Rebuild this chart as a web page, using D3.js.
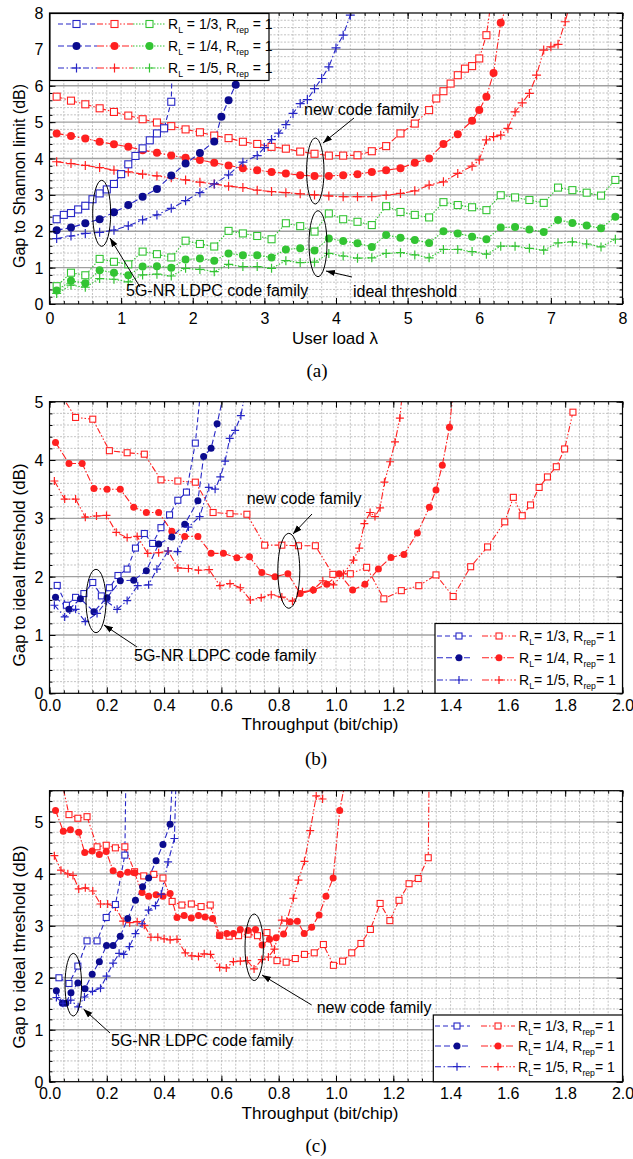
<!DOCTYPE html>
<html><head><meta charset="utf-8">
<script src="https://cdn.jsdelivr.net/npm/d3@7"></script>
<style>body{margin:0;background:#fff}</style>
</head><body>
<script>
// ================= DATA =================
// tick labels
const aXTicks=[0,1,2,3,4,5,6,7,8];
const aYTicks=[0,1,2,3,4,5,6,7,8];
const bcXTicks=[0,0.2,0.4,0.6,0.8,1.0,1.2,1.4,1.6,1.8,2.0];
const bYTicks=[0,1,2,3,4,5];
const cYTicks=[0,1,2,3,4,5];
const legendRates=["1/3","1/4","1/5"];

// Panel (a): gap to Shannon limit vs user load
const a_nr13=[[0.1,2.33],[0.2,2.45],[0.3,2.5],[0.4,2.6],[0.5,2.7],[0.6,2.88],[0.7,3.04],[0.8,3.15],[0.9,3.3],[1.0,3.57],[1.1,3.84],[1.2,4.07],[1.3,4.28],[1.4,4.5],[1.5,4.69],[1.6,4.83],[1.7,5.56],[1.8,14]];
const a_nr14=[[0.1,2.03],[0.3,2.1],[0.5,2.22],[0.7,2.33],[0.9,2.52],[1.1,2.72],[1.3,2.95],[1.5,3.16],[1.7,3.53],[1.9,3.86],[2.1,4.15],[2.3,4.47],[2.4,5.15],[2.5,5.6],[2.6,6.03]];
const a_nr15=[[0.1,1.8],[0.3,1.87],[0.5,1.94],[0.7,1.97],[0.9,2.03],[1.1,2.15],[1.3,2.31],[1.5,2.45],[1.7,2.63],[1.9,2.84],[2.1,3.06],[2.3,3.3],[2.5,3.55],[2.7,3.9],[2.9,4.08],[3.0,4.3],[3.1,4.52],[3.2,4.7],[3.3,4.93],[3.4,5.24],[3.5,5.51],[3.6,5.62],[3.7,5.92],[3.8,6.2],[3.9,6.52],[4.0,7.04],[4.1,7.39],[4.2,7.94]];
const a_new13=[[0.1,5.7],[0.3,5.59],[0.5,5.49],[0.7,5.38],[0.9,5.28],[1.1,5.18],[1.3,5.08],[1.5,4.99],[1.7,4.89],[1.9,4.8],[2.1,4.72],[2.3,4.63],[2.5,4.56],[2.7,4.46],[2.9,4.4],[3.1,4.32],[3.3,4.27],[3.5,4.19],[3.7,4.13],[3.9,4.08],[4.1,4.08],[4.3,4.09],[4.5,4.2],[4.7,4.34],[4.9,4.69],[5.1,4.96],[5.3,5.33],[5.4,5.65],[5.5,5.85],[5.6,6.06],[5.7,6.29],[5.8,6.47],[5.9,6.54],[6.0,6.75],[6.1,7.39],[6.2,8.8]];
const a_new14=[[0.1,4.69],[0.3,4.62],[0.5,4.55],[0.7,4.46],[0.9,4.39],[1.1,4.32],[1.3,4.23],[1.5,4.16],[1.7,4.08],[1.9,4.02],[2.1,3.96],[2.3,3.88],[2.5,3.81],[2.7,3.73],[2.9,3.68],[3.1,3.63],[3.3,3.59],[3.5,3.54],[3.7,3.52],[3.9,3.52],[4.1,3.54],[4.3,3.57],[4.5,3.63],[4.7,3.68],[4.9,3.73],[5.1,3.88],[5.3,4.0],[5.5,4.4],[5.7,4.67],[5.9,5.04],[6.0,5.33],[6.1,5.7],[6.2,6.35],[6.3,7.73],[6.4,8.3]];
const a_new15=[[0.1,3.91],[0.3,3.86],[0.5,3.81],[0.7,3.75],[0.9,3.68],[1.1,3.63],[1.3,3.57],[1.5,3.52],[1.7,3.47],[1.9,3.41],[2.1,3.35],[2.3,3.3],[2.5,3.24],[2.7,3.2],[2.9,3.13],[3.1,3.09],[3.3,3.06],[3.5,3.03],[3.7,3.0],[3.9,2.97],[4.1,2.95],[4.3,2.95],[4.5,2.95],[4.7,2.99],[4.9,3.04],[5.1,3.11],[5.3,3.27],[5.5,3.36],[5.7,3.59],[5.9,3.79],[6.0,3.96],[6.1,4.51],[6.2,4.6],[6.3,4.64],[6.4,4.83],[6.5,5.28],[6.6,5.53],[6.7,5.79],[6.8,6.29],[6.9,6.98],[7.0,7.07],[7.1,7.14],[7.2,7.76],[7.3,8.5]];
const a_id13=[[0.1,0.49],[0.3,0.86],[0.5,0.79],[0.7,1.24],[0.9,1.16],[1.1,1.09],[1.3,1.44],[1.5,1.37],[1.7,1.28],[1.9,1.74],[2.1,1.65],[2.3,1.58],[2.5,2.01],[2.7,1.94],[2.9,1.87],[3.1,1.78],[3.3,2.22],[3.5,2.14],[3.7,1.99],[3.9,2.49],[4.1,2.33],[4.3,2.26],[4.5,2.17],[4.7,2.69],[4.9,2.53],[5.1,2.45],[5.3,2.38],[5.5,2.8],[5.7,2.72],[5.9,2.66],[6.1,2.58],[6.3,2.99],[6.5,2.93],[6.7,2.86],[6.9,2.78],[7.1,3.2],[7.3,3.13],[7.5,3.06],[7.7,2.98],[7.9,3.41]];
const a_id14=[[0.1,0.37],[0.3,0.64],[0.5,0.57],[0.7,0.93],[0.9,0.86],[1.1,0.79],[1.3,1.03],[1.5,1.04],[1.7,1.0],[1.9,1.22],[2.1,1.25],[2.3,1.19],[2.5,1.39],[2.7,1.34],[2.9,1.34],[3.1,1.28],[3.3,1.5],[3.5,1.53],[3.7,1.47],[3.9,1.8],[4.1,1.73],[4.3,1.67],[4.5,1.57],[4.7,1.9],[4.9,1.82],[5.1,1.76],[5.3,1.68],[5.5,2.0],[5.7,1.94],[5.9,1.85],[6.1,1.78],[6.3,2.1],[6.5,2.12],[6.7,2.05],[6.9,1.98],[7.1,2.31],[7.3,2.23],[7.5,2.16],[7.7,2.08],[7.9,2.4]];
const a_id15=[[0.1,0.29],[0.3,0.52],[0.5,0.46],[0.7,0.7],[0.9,0.68],[1.1,0.61],[1.3,0.8],[1.5,0.82],[1.7,0.77],[1.9,0.98],[2.1,0.95],[2.3,0.89],[2.5,1.09],[2.7,1.03],[2.9,1.03],[3.1,0.98],[3.3,1.19],[3.5,1.14],[3.7,1.15],[3.9,1.39],[4.1,1.32],[4.3,1.26],[4.5,1.27],[4.7,1.39],[4.9,1.41],[5.1,1.35],[5.3,1.27],[5.5,1.5],[5.7,1.5],[5.9,1.44],[6.1,1.37],[6.3,1.59],[6.5,1.59],[6.7,1.53],[6.9,1.48],[7.1,1.68],[7.3,1.71],[7.5,1.65],[7.7,1.57],[7.9,1.78]];

// Panel (b): gap to ideal threshold vs throughput
const b_nr13=[[0.027,1.85],[0.059,1.51],[0.091,1.645],[0.12,1.71],[0.151,1.9],[0.181,1.67],[0.209,1.81],[0.239,2.02],[0.271,2.13],[0.3,2.49],[0.331,2.74],[0.36,2.57],[0.389,2.84],[0.419,3.06],[0.448,3.31],[0.478,3.45],[0.509,4.29],[0.54,5.8]];
const b_nr14=[[0.021,1.645],[0.068,1.44],[0.108,1.62],[0.155,1.4],[0.201,1.64],[0.247,1.93],[0.294,1.94],[0.338,2.1],[0.381,2.56],[0.427,2.68],[0.472,2.9],[0.518,3.3],[0.538,4.06],[0.564,4.2],[0.585,4.62],[0.62,5.4]];
const b_nr15=[[0.017,1.51],[0.053,1.31],[0.091,1.44],[0.125,1.23],[0.166,1.37],[0.199,1.58],[0.236,1.44],[0.271,1.59],[0.308,1.845],[0.346,1.86],[0.375,2.13],[0.414,2.44],[0.447,2.43],[0.485,2.85],[0.524,3.03],[0.556,3.53],[0.578,3.5],[0.596,3.71],[0.613,3.98],[0.629,4.37],[0.648,4.51],[0.668,4.76],[0.69,5.35]];
const b_new13=[[0.03,5.2],[0.091,4.73],[0.151,4.7],[0.209,4.16],[0.271,4.125],[0.331,4.1],[0.389,3.66],[0.448,3.64],[0.509,3.62],[0.571,3.1],[0.63,3.08],[0.689,3.07],[0.751,2.54],[0.811,2.54],[0.869,2.53],[0.928,2.53],[0.989,2.04],[1.05,2.05],[1.107,2.16],[1.167,1.62],[1.228,1.76],[1.289,1.845],[1.349,2.03],[1.409,1.66],[1.47,2.17],[1.529,2.51],[1.589,2.94],[1.619,3.36],[1.65,3.045],[1.679,3.23],[1.709,3.53],[1.738,3.71],[1.769,3.885],[1.798,4.19],[1.827,4.82]];
const b_new14=[[0.021,4.3],[0.068,3.94],[0.114,3.94],[0.155,3.51],[0.201,3.5],[0.247,3.5],[0.294,3.19],[0.338,3.1],[0.381,3.1],[0.427,2.78],[0.472,2.69],[0.518,2.69],[0.564,2.4],[0.607,2.4],[0.654,2.325],[0.698,2.34],[0.741,2.07],[0.787,2.0],[0.832,2.05],[0.875,1.71],[0.921,1.77],[0.968,1.87],[1.011,2.05],[1.058,1.77],[1.101,1.87],[1.148,2.13],[1.192,2.33],[1.237,2.38],[1.284,2.75],[1.326,3.19],[1.349,3.485],[1.371,3.91],[1.396,4.56],[1.42,5.7]];
const b_new15=[[0.017,3.64],[0.053,3.33],[0.091,3.33],[0.125,3.02],[0.164,3.04],[0.199,3.05],[0.233,2.76],[0.271,2.67],[0.306,2.69],[0.343,2.4],[0.381,2.41],[0.414,2.44],[0.448,2.15],[0.485,2.14],[0.52,2.11],[0.557,2.12],[0.595,1.845],[0.63,1.88],[0.666,1.81],[0.701,1.6],[0.739,1.64],[0.774,1.69],[0.811,1.65],[0.848,1.58],[0.883,1.74],[0.919,1.77],[0.954,1.93],[0.991,1.86],[1.026,2.05],[1.061,2.285],[1.081,2.49],[1.099,2.91],[1.119,3.1],[1.136,3.03],[1.154,3.18],[1.169,3.62],[1.189,3.97],[1.206,4.31],[1.223,4.72],[1.24,5.6]];

// Panel (c): gap to ideal threshold vs throughput
const c_nr13=[[0.033,2.0],[0.068,1.89],[0.099,2.225],[0.131,2.71],[0.166,2.71],[0.198,3.16],[0.23,3.41],[0.263,4.36],[0.268,6.5]];
const c_nr14=[[0.024,1.75],[0.045,1.51],[0.057,1.51],[0.075,1.71],[0.099,1.9],[0.124,1.79],[0.149,2.07],[0.174,2.31],[0.199,2.62],[0.222,2.62],[0.247,2.8],[0.273,3.14],[0.3,3.49],[0.325,3.75],[0.346,3.92],[0.372,4.25],[0.396,4.565],[0.421,4.955],[0.435,6.5]];
const c_nr15=[[0.024,1.62],[0.047,1.51],[0.074,1.57],[0.1,1.44],[0.122,1.63],[0.15,1.74],[0.178,1.8],[0.199,2.03],[0.222,2.28],[0.243,2.47],[0.259,2.45],[0.279,2.6],[0.3,2.85],[0.323,3.04],[0.346,3.3],[0.37,3.39],[0.39,3.61],[0.414,4.23],[0.436,4.68],[0.445,6.5]];
const c_new13=[[0.038,5.9],[0.068,5.14],[0.099,5.07],[0.131,5.1],[0.166,4.52],[0.198,4.55],[0.23,4.5],[0.263,4.52],[0.297,4.04],[0.329,3.96],[0.364,3.99],[0.396,3.92],[0.428,3.47],[0.462,3.4],[0.495,3.42],[0.529,3.37],[0.561,3.4],[0.594,2.82],[0.627,2.8],[0.66,2.81],[0.693,2.84],[0.726,2.81],[0.759,2.87],[0.794,2.33],[0.826,2.3],[0.858,2.37],[0.89,2.45],[0.924,2.48],[0.956,2.64],[0.991,2.24],[1.023,2.32],[1.055,2.48],[1.087,2.66],[1.12,2.93],[1.154,3.43],[1.188,3.1],[1.22,3.49],[1.255,3.81],[1.287,3.91],[1.322,4.31],[1.326,6.5]];
const c_new14=[[0.021,5.22],[0.048,4.82],[0.073,4.85],[0.102,4.8],[0.123,4.41],[0.149,4.44],[0.174,4.37],[0.198,4.43],[0.222,4.06],[0.247,3.99],[0.273,4.03],[0.297,4.02],[0.323,3.64],[0.346,3.57],[0.372,3.6],[0.396,3.57],[0.421,3.62],[0.445,3.16],[0.47,3.2],[0.495,3.15],[0.52,3.2],[0.543,3.17],[0.569,3.14],[0.594,2.81],[0.619,2.85],[0.642,2.85],[0.666,2.93],[0.693,2.91],[0.719,2.93],[0.742,2.63],[0.768,2.74],[0.791,2.77],[0.817,2.84],[0.84,3.08],[0.865,3.09],[0.889,2.85],[0.915,2.97],[0.941,3.21],[0.965,3.57],[0.99,3.92],[1.013,5.22],[1.04,6.0]];
const c_new15=[[0.017,4.35],[0.04,4.07],[0.064,4.0],[0.082,3.97],[0.102,3.71],[0.125,3.73],[0.151,3.67],[0.178,3.42],[0.203,3.42],[0.23,3.36],[0.257,3.09],[0.28,3.06],[0.306,3.08],[0.331,3.01],[0.354,2.78],[0.378,2.78],[0.4,2.75],[0.421,2.73],[0.445,2.74],[0.474,2.48],[0.497,2.42],[0.52,2.41],[0.54,2.46],[0.562,2.45],[0.594,2.2],[0.617,2.19],[0.642,2.31],[0.666,2.32],[0.69,2.33],[0.714,2.17],[0.741,2.35],[0.764,2.4],[0.785,2.55],[0.811,3.11],[0.828,3.09],[0.851,3.53],[0.869,3.88],[0.89,4.24],[0.91,4.83],[0.931,5.5],[0.953,5.44],[0.96,6.5]];

// ================= STYLE / LAYOUT =================
const FONT="'Liberation Sans', Arial, Helvetica, sans-serif";
const SERIF="'Liberation Serif','Times New Roman',serif";
const BLUE="#2626c6", NAVY="#0b0b8e", RED="#ff2020", GREEN="#33c433";
const ST={
  nr13:{c:BLUE,f:BLUE,m:"sq",d:"5,3"},
  nr14:{c:BLUE,f:NAVY,m:"ci",d:"6,3"},
  nr15:{c:BLUE,f:BLUE,m:"pl",d:"6,2.5,1.5,2.5"},
  new13:{c:RED,f:RED,m:"sq",d:"6,2,1.5,2,1.5,2"},
  new14:{c:RED,f:RED,m:"ci",d:"7,2,1.5,2"},
  new15:{c:RED,f:RED,m:"pl",d:"7,2,1.5,2,1.5,2"},
  id13:{c:GREEN,f:GREEN,m:"sq",d:"1.5,1.5"},
  id14:{c:GREEN,f:GREEN,m:"ci",d:"1.5,1.5"},
  id15:{c:GREEN,f:GREEN,m:"pl",d:"1.5,1.5"}
};

const W=633,H=1159;
const svg=d3.select("body").append("svg").attr("width",W).attr("height",H)
  .style("background","#fff").attr("font-family",FONT);
const defs=svg.append("defs");
defs.append("marker").attr("id","arr").attr("viewBox","0 0 10 10").attr("refX",10).attr("refY",5)
  .attr("markerWidth",9).attr("markerHeight",9).attr("markerUnits","userSpaceOnUse").attr("orient","auto")
  .append("path").attr("d","M0,1.5L10,5L0,8.5Z").attr("fill","#000");

function marker(g,type,st,s){
  if(type==="sq") g.append("rect").attr("x",-s).attr("y",-s).attr("width",2*s).attr("height",2*s)
     .attr("fill","#fff").attr("stroke",st.c).attr("stroke-width",1.1);
  else if(type==="ci") g.append("circle").attr("r",s+0.5).attr("fill",st.f).attr("stroke","none");
  else g.append("path").attr("d",`M${-s-1},0H${s+1}M0,${-s-1}V${s+1}`).attr("stroke",st.c).attr("stroke-width",1.2);
}

function panel(P){
  const x=d3.scaleLinear().domain(P.xd).range([P.l,P.r]);
  const y=d3.scaleLinear().domain(P.yd).range([P.b,P.t]);
  const g=svg.append("g");
  const cid="clip"+P.id;
  defs.append("clipPath").attr("id",cid).append("rect").attr("x",P.l).attr("y",P.t).attr("width",P.r-P.l).attr("height",P.b-P.t);
  // grid
  const xm=d3.range(P.xd[0],P.xd[1]+1e-9,P.xMinor).map(v=>+v.toFixed(4));
  const ym=d3.range(P.yd[0],P.yd[1]+1e-9,P.yMinor).map(v=>+v.toFixed(4));
  const grid=g.append("g");
  grid.selectAll(".vx").data(xm.filter(v=>v>P.xd[0]&&v<P.xd[1])).join("line")
    .attr("x1",d=>x(d)).attr("x2",d=>x(d)).attr("y1",P.t).attr("y2",P.b)
    .attr("stroke","#b4b4b4").attr("stroke-width",0.8).attr("stroke-dasharray","2,1.5");
  grid.selectAll(".hy").data(ym.filter(v=>Math.abs(v-Math.round(v))>1e-6)).join("line")
    .attr("y1",d=>y(d)).attr("y2",d=>y(d)).attr("x1",P.l).attr("x2",P.r)
    .attr("stroke","#b4b4b4").attr("stroke-width",0.8).attr("stroke-dasharray","2,1.5");
  grid.selectAll(".hm").data(P.yT.filter(v=>v>P.yd[0]&&v<P.yd[1])).join("line")
    .attr("y1",d=>y(d)).attr("y2",d=>y(d)).attr("x1",P.l).attr("x2",P.r)
    .attr("stroke","#a0a0a0").attr("stroke-width",1.4);
  // series
  const sg=g.append("g").attr("clip-path",`url(#${cid})`);
  P.series.forEach(([data,key])=>{
    const st=ST[key];
    sg.append("path").datum(data).attr("d",d3.line().x(d=>x(d[0])).y(d=>y(d[1])))
      .attr("fill","none").attr("stroke",st.c).attr("stroke-width",1.1).attr("stroke-dasharray",st.d);
  });
  P.series.forEach(([data,key])=>{
    const st=ST[key];
    sg.selectAll(null).data(data).join("g").attr("transform",d=>`translate(${x(d[0])},${y(d[1])})`)
      .each(function(){marker(d3.select(this),st.m,st,P.ms);});
  });
  // frame
  g.append("rect").attr("x",P.l).attr("y",P.t).attr("width",P.r-P.l).attr("height",P.b-P.t)
    .attr("fill","none").attr("stroke","#000").attr("stroke-width",1.2);
  // axes (inward ticks on all sides)
  const fmt=P.fmt;
  const ax=(gen,pos)=>g.append("g").attr("transform",pos).call(gen).call(s=>s.select(".domain").remove());
  const minorX=xm, minorY=ym;
  ax(d3.axisBottom(x).tickValues(minorX).tickSize(-3).tickFormat(""),`translate(0,${P.b})`);
  ax(d3.axisTop(x).tickValues(minorX).tickSize(-3).tickFormat(""),`translate(0,${P.t})`);
  ax(d3.axisLeft(y).tickValues(minorY).tickSize(-3).tickFormat(""),`translate(${P.l},0)`);
  ax(d3.axisRight(y).tickValues(minorY).tickSize(-3).tickFormat(""),`translate(${P.r},0)`);
  ax(d3.axisTop(x).tickValues(P.xT).tickSize(-6).tickFormat(""),`translate(0,${P.t})`);
  ax(d3.axisRight(y).tickValues(P.yT).tickSize(-6).tickFormat(""),`translate(${P.r},0)`);
  const bx=ax(d3.axisBottom(x).tickValues(P.xT).tickSize(-6).tickPadding(P.xpad).tickFormat(fmt),`translate(0,${P.b})`);
  const ly=ax(d3.axisLeft(y).tickValues(P.yT).tickSize(-6).tickPadding(6).tickFormat(d3.format("d")),`translate(${P.l},0)`);
  [bx,ly].forEach(s=>s.selectAll("text").attr("font-size",16).attr("font-family",FONT).attr("fill","#000"));
  ly.selectAll("text").attr("dy","0.35em");
  g.selectAll(".tick line").attr("stroke","#000").attr("stroke-width",1);
  // axis titles
  g.append("text").attr("transform",`translate(${P.ytx},${P.yty}) rotate(-90)`).attr("text-anchor","middle")
    .attr("dominant-baseline","central").attr("font-size",P.yfs).text(P.ytitle);
  const xt=g.append("text").attr("x",P.xtx).attr("y",P.xty).attr("text-anchor","middle").attr("font-size",P.xfs);
  xt.text(P.xtitle);
  g.append("text").attr("x",P.capx).attr("y",P.capy).attr("text-anchor","middle").attr("font-family",SERIF)
    .attr("font-size",19).text(P.cap);
  // annotations
  P.ann.forEach(a=>{
    if(a.type==="ell") g.append("ellipse").attr("cx",a.cx).attr("cy",a.cy).attr("rx",a.rx).attr("ry",a.ry)
       .attr("fill","none").attr("stroke","#000").attr("stroke-width",1);
    else if(a.type==="arr") g.append("line").attr("x1",a.x1).attr("y1",a.y1).attr("x2",a.x2).attr("y2",a.y2)
       .attr("stroke","#000").attr("stroke-width",1).attr("marker-end","url(#arr)");
    else g.append("text").attr("x",a.x).attr("y",a.y).attr("font-size",16).text(a.t);
  });
  // legend
  const L=P.leg;
  const lg=g.append("g");
  lg.append("rect").attr("x",L.x0).attr("y",L.y0).attr("width",L.x1-L.x0).attr("height",L.y1-L.y0)
    .attr("fill","#fff").attr("stroke","#000").attr("stroke-width",1.2);
  L.rows.forEach((keys,i)=>{
    const yy=L.ys[i];
    keys.forEach((k,j)=>{
      const st=ST[k], sgm=L.segs[j];
      lg.append("line").attr("x1",sgm[0]).attr("x2",sgm[2]).attr("y1",yy).attr("y2",yy)
        .attr("stroke",st.c).attr("stroke-width",1.1).attr("stroke-dasharray",st.d);
      const mg=lg.append("g").attr("transform",`translate(${sgm[1]},${yy})`);
      marker(mg,st.m,st,P.ms);
    });
    const t=lg.append("text").attr("x",L.tx).attr("y",yy+5).attr("font-size",L.fs);
    t.append("tspan").text("R");
    t.append("tspan").attr("font-size",L.fs*0.62).attr("dy",4).text("L");
    t.append("tspan").attr("dy",-4).text(`${L.sp}= ${legendRates[i]}, R`);
    t.append("tspan").attr("font-size",L.fs*0.62).attr("dy",4).text("rep");
    t.append("tspan").attr("dy",-4).text(`${L.sp}= 1`);
  });
}

panel({id:"a",l:49.5,r:622.5,t:13,b:304,xd:[0,8],yd:[0,8],xMinor:0.2,yMinor:0.2,xT:aXTicks,yT:aYTicks,
  fmt:d3.format("d"),ms:3.5,xpad:9,
  series:[[a_id13,"id13"],[a_id14,"id14"],[a_id15,"id15"],[a_new13,"new13"],[a_new14,"new14"],[a_new15,"new15"],[a_nr13,"nr13"],[a_nr14,"nr14"],[a_nr15,"nr15"]],
  ytitle:"Gap to Shannon limit (dB)",ytx:19,yty:176,yfs:16,
  xtitle:"User load \u03bb",xtx:335,xty:344,xfs:17,cap:"(a)",capx:317,capy:377,
  ann:[{type:"ell",cx:315.3,cy:171,rx:8.7,ry:33},{type:"ell",cx:318,cy:243.7,rx:9,ry:33},{type:"ell",cx:101.7,cy:213.3,rx:9,ry:33},
    {type:"text",x:304,y:115,t:"new code family"},{type:"arr",x1:354,y1:118,x2:323,y2:143},
    {type:"text",x:353,y:297,t:"ideal threshold"},{type:"arr",x1:352,y1:277,x2:326,y2:271},
    {type:"text",x:126,y:296,t:"5G-NR LDPC code family"},{type:"arr",x1:140,y1:287,x2:110,y2:238}],
  leg:{x0:50,y0:13.5,x1:269,y1:80.5,ys:[24,46,68],segs:[[58,76.5,97],[97,114.5,133],[133,149.5,165]],tx:168,fs:14,sp:" ",
    rows:[["nr13","new13","id13"],["nr14","new14","id14"],["nr15","new15","id15"]]}
});

panel({id:"b",l:49.5,r:622.5,t:401.7,b:693.3,xd:[0,2],yd:[0,5],xMinor:0.05,yMinor:0.2,xT:bcXTicks,yT:bYTicks,
  fmt:d3.format(".1f"),ms:3,xpad:6,
  series:[[b_new13,"new13"],[b_new14,"new14"],[b_new15,"new15"],[b_nr13,"nr13"],[b_nr14,"nr14"],[b_nr15,"nr15"]],
  ytitle:"Gap to ideal threshold (dB)",ytx:19,yty:565,yfs:17,
  xtitle:"Throughput (bit/chip)",xtx:320,xty:730,xfs:17,cap:"(b)",capx:316,capy:765,
  ann:[{type:"ell",cx:288.8,cy:570.8,rx:11,ry:37.5},{type:"ell",cx:96,cy:601,rx:10,ry:31.7},
    {type:"text",x:246.7,y:503.5,t:"new code family"},{type:"arr",x1:312,y1:514,x2:293,y2:534},
    {type:"text",x:134,y:661,t:"5G-NR LDPC code family"},{type:"arr",x1:137,y1:647,x2:104,y2:625}],
  leg:{x0:435,y0:623.5,x1:622.5,y1:693.3,ys:[636,657.7,680],segs:[[437,459,472],[482,499,516]],tx:519,fs:14,sp:"",
    rows:[["nr13","new13"],["nr14","new14"],["nr15","new15"]]}
});

panel({id:"c",l:49.5,r:622.5,t:790.7,b:1081.7,xd:[0,2],yd:[0,5.6],xMinor:0.05,yMinor:0.2,xT:bcXTicks,yT:cYTicks,
  fmt:d3.format(".1f"),ms:3,xpad:6,
  series:[[c_new13,"new13"],[c_new14,"new14"],[c_new15,"new15"],[c_nr13,"nr13"],[c_nr14,"nr14"],[c_nr15,"nr15"]],
  ytitle:"Gap to ideal threshold (dB)",ytx:19,yty:947,yfs:17,
  xtitle:"Throughput (bit/chip)",xtx:320,xty:1118.5,xfs:17,cap:"(c)",capx:316,capy:1152,
  ann:[{type:"ell",cx:254.2,cy:947.3,rx:9.2,ry:33.3},{type:"ell",cx:73.3,cy:984.7,rx:8.3,ry:31.3},
    {type:"text",x:316.7,y:1012.7,t:"new code family"},{type:"arr",x1:311.7,y1:1005,x2:262,y2:975},
    {type:"text",x:111,y:1045.7,t:"5G-NR LDPC code family"},{type:"arr",x1:110,y1:1033,x2:83.5,y2:1009}],
  leg:{x0:433.3,y0:1015,x1:622.5,y1:1081.7,ys:[1026,1046,1066.7],segs:[[435,457,470],[481,498,515]],tx:518,fs:14,sp:"",
    rows:[["nr13","new13"],["nr14","new14"],["nr15","new15"]]}
});
</script>
</body></html>
